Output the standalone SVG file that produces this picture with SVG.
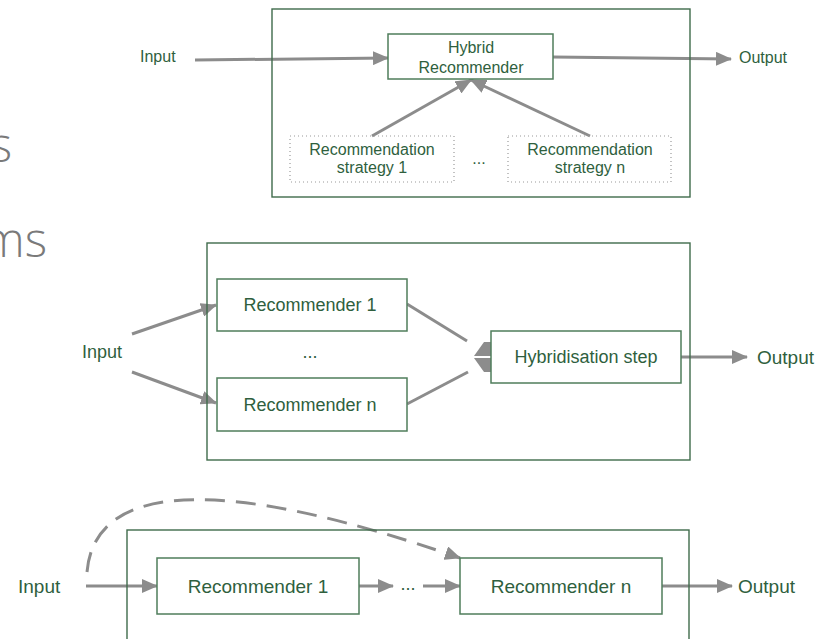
<svg xmlns="http://www.w3.org/2000/svg" width="829" height="639" viewBox="0 0 829 639">
<style>
text{font-family:"Liberation Sans",Arial,sans-serif;fill:#2f5f3e}
.box{fill:#fff;stroke:#4f7d5b;stroke-width:1.5}
.outer{fill:none;stroke:#3f6b4b;stroke-width:1.4}
.dot{fill:none;stroke:#9a9a9a;stroke-width:1.2;stroke-dasharray:1 3}
.arr{fill:none;stroke:#8c8c8c;stroke-width:3}
.t1{font-size:16px}
.t2{font-size:18px}
.t3{font-size:19px}
.title{font-family:"Open Sans","Lato",sans-serif;font-weight:300;fill:#7a7a7a;font-size:48px}
.c{text-anchor:middle}
</style>
<defs>
<marker id="ah" markerUnits="userSpaceOnUse" markerWidth="16" markerHeight="14" refX="15" refY="7" orient="auto">
<path d="M0,0 L16,7 L0,14 z" fill="#8c8c8c"/>
</marker>
</defs>
<text class="title" x="12" y="162" text-anchor="end">s</text>
<text class="title" x="47" y="257" text-anchor="end">ms</text>

<g id="connectors">
<line class="arr" x1="195" y1="60" x2="388" y2="58" marker-end="url(#ah)"/>
<line class="arr" x1="553" y1="57" x2="731" y2="59" marker-end="url(#ah)"/>
<line class="arr" x1="372" y1="136" x2="471" y2="80" marker-end="url(#ah)"/>
<line class="arr" x1="590" y1="136" x2="471" y2="80" marker-end="url(#ah)"/>

<line class="arr" x1="132" y1="334" x2="216" y2="305" marker-end="url(#ah)"/>
<line class="arr" x1="132" y1="372" x2="216" y2="403" marker-end="url(#ah)"/>
<line class="arr" x1="407" y1="304" x2="467" y2="341"/>
<line class="arr" x1="407" y1="404" x2="468" y2="372"/>
<path d="M474,356 L484,342 L491,342 L491,356 z" fill="#8c8c8c"/>
<path d="M474,358 L484,372 L491,372 L491,358 z" fill="#8c8c8c"/>
<line class="arr" x1="681" y1="357" x2="747" y2="357" marker-end="url(#ah)"/>

<line class="arr" x1="86" y1="586" x2="157" y2="586" marker-end="url(#ah)"/>
<line class="arr" x1="359" y1="586" x2="393" y2="586" marker-end="url(#ah)"/>
<line class="arr" x1="423" y1="586" x2="460" y2="586" marker-end="url(#ah)"/>
<line class="arr" x1="662" y1="586" x2="732" y2="586" marker-end="url(#ah)"/>
<path class="arr" d="M87,572 C95,478 230,478 460,558" stroke-dasharray="20 11" marker-end="url(#ah)"/>
</g>

<g id="top-frame"><rect class="outer" x="272" y="9" width="418" height="188"/></g>
<g id="top-input"><text class="t1" x="140" y="62">Input</text></g>
<g id="hybrid-recommender">
<rect class="box" x="388" y="34" width="165" height="45"/>
<text class="t1 c" x="471" y="53">Hybrid</text>
<text class="t1 c" x="471" y="73">Recommender</text>
</g>
<g id="top-output"><text class="t1" x="739" y="63">Output</text></g>
<g id="strategy-1">
<rect class="dot" x="290" y="136" width="164" height="46"/>
<text class="t1 c" x="372" y="155">Recommendation</text>
<text class="t1 c" x="372" y="173">strategy 1</text>
</g>
<g id="top-dots"><text class="t1 c" x="479" y="164">...</text></g>
<g id="strategy-n">
<rect class="dot" x="508" y="136" width="163" height="46"/>
<text class="t1 c" x="590" y="155">Recommendation</text>
<text class="t1 c" x="590" y="173">strategy n</text>
</g>

<g id="mid-frame"><rect class="outer" x="207" y="243" width="483" height="217"/></g>
<g id="mid-input"><text class="t2" x="82" y="358">Input</text></g>
<g id="mid-rec-1">
<rect class="box" x="217" y="279" width="190" height="52"/>
<text class="t2 c" x="310" y="311">Recommender 1</text>
</g>
<g id="mid-dots"><text class="t2 c" x="310" y="358">...</text></g>
<g id="mid-rec-n">
<rect class="box" x="217" y="378" width="190" height="53"/>
<text class="t2 c" x="310" y="411">Recommender n</text>
</g>
<g id="hybridisation-step">
<rect class="box" x="491" y="331" width="190" height="52"/>
<text class="t2 c" x="586" y="363">Hybridisation step</text>
</g>
<g id="mid-output"><text class="t3" x="757" y="364">Output</text></g>

<g id="bot-frame"><rect class="outer" x="127" y="530" width="562" height="200"/></g>
<g id="bot-input"><text class="t3" x="18" y="593">Input</text></g>
<g id="bot-rec-1">
<rect class="box" x="157" y="558" width="202" height="56"/>
<text class="t3 c" x="258" y="593">Recommender 1</text>
</g>
<g id="bot-dots"><text class="t2 c" x="408" y="590">...</text></g>
<g id="bot-rec-n">
<rect class="box" x="460" y="558" width="202" height="56"/>
<text class="t3 c" x="561" y="593">Recommender n</text>
</g>
<g id="bot-output"><text class="t3" x="738" y="593">Output</text></g>
</svg>
